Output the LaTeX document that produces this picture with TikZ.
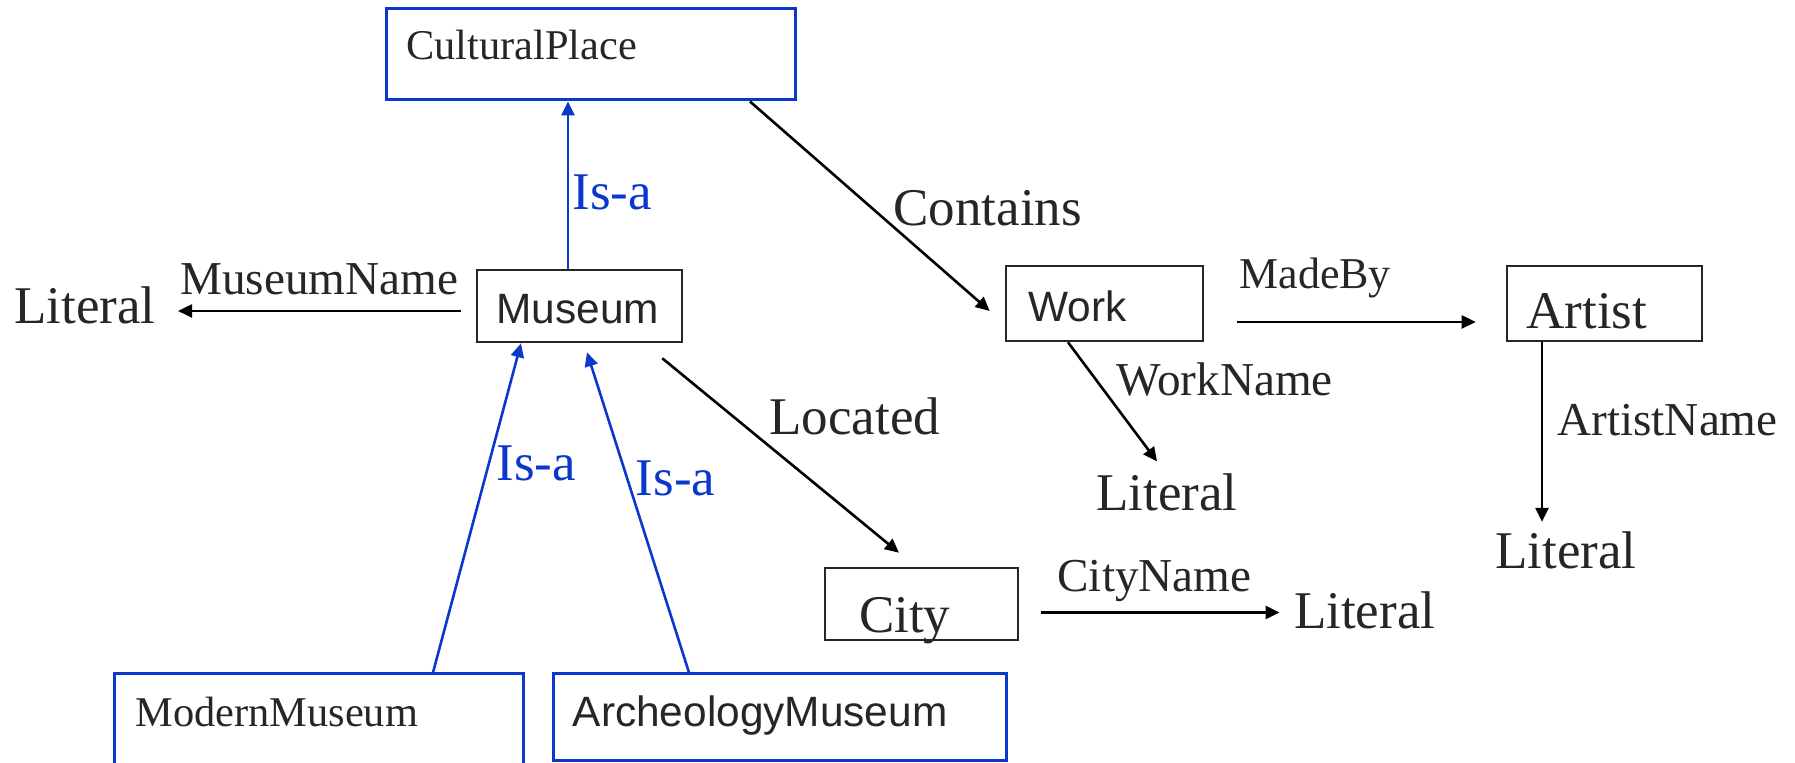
\documentclass[tikz,border=0pt]{standalone}
\usepackage{fontspec}
\setmainfont{Liberation Serif}
\setsansfont{Liberation Sans}
\usetikzlibrary{calc,arrows.meta}
\definecolor{isablue}{RGB}{10,56,204}
\definecolor{ink}{RGB}{38,38,38}
\begin{document}
\begin{tikzpicture}[x=0.5pt,y=-0.5pt,
  every node/.style={inner sep=0pt,text=ink},
  txt/.style={anchor=base west},
  bigf/.style={font=\fontsize{26.5}{30}\selectfont},
  midf/.style={font=\fontsize{23.6}{28}\selectfont},
  smallf/.style={font=\fontsize{21.2}{25}\selectfont},
  sansf/.style={font=\sffamily\fontsize{21.2}{25}\selectfont},
  bluebox/.style={draw=isablue,line width=1.5pt},
  blackbox/.style={draw=ink,line width=1.3pt},
  rel/.style={draw=black,line width=1.3pt,-{Triangle[length=7pt,width=6.5pt]}},
  isa/.style={draw=isablue,line width=1.3pt,-{Triangle[length=7pt,width=6.5pt]}},
  isalabel/.style={txt,bigf,text=isablue}]
\fill[white] (0,0) rectangle (1795,763);
\clip (0,0) rectangle (1795,763);

% class boxes
\node[bluebox,minimum width=204.5pt,minimum height=45.5pt] (cp) at (590.5,54.5) {};
\node[blackbox,minimum width=102.5pt,minimum height=36pt] (mus) at (579.5,306) {};
\node[blackbox,minimum width=98.5pt,minimum height=37.5pt] (work) at (1104.5,303.5) {};
\node[blackbox,minimum width=97.5pt,minimum height=37.5pt] (art) at (1604.5,303.5) {};
\node[blackbox,minimum width=96.5pt,minimum height=36pt] (city) at (921.5,604) {};
\node[bluebox,minimum width=204.5pt,minimum height=63pt] (mm) at (318.5,737) {};
\node[bluebox,minimum width=226.5pt,minimum height=43.5pt] (am) at (779.5,717.5) {};

% box captions
\node[txt,smallf] (cpt) at (406,59.5) {CulturalPlace};
\node[txt,sansf] (must) at (496,324) {Museum};
\node[txt,sansf] (workt) at (1028,322) {Work};
\node[txt,bigf] (artt) at (1526,328.5) {Artist};
\node[txt,bigf] (cityt) at (858.6,633) {City};
\node[txt,smallf] (mmt) at (135,727) {ModernMuseum};
\node[txt,sansf] (amt) at (572.4,727) {ArcheologyMuseum};

% literal values
\node[txt,bigf] (lit1) at (14,324) {Literal};
\node[txt,bigf] (lit2) at (1096,510.6) {Literal};
\node[txt,bigf] (lit3) at (1495,569) {Literal};
\node[txt,bigf] (lit4) at (1293.6,628.5) {Literal};

% property labels
\node[isalabel] (isa1) at (572,209.5) {Is-a};
\node[isalabel] (isa2) at (496,481) {Is-a};
\node[isalabel] (isa3) at (635.5,496) {Is-a};
\node[txt,bigf] (lcont) at (893,225.5) {Contains};
\node[txt,bigf] (lloc) at (769,435) {Located};
\node[txt,midf] (lmn) at (180,295) {MuseumName};
\node[txt,font=\fontsize{22}{26}\selectfont] (lmb) at (1239,288.5) {MadeBy};
\node[txt,midf] (lwn) at (1116,396) {WorkName};
\node[txt,midf] (lan) at (1557,436) {ArtistName};
\node[txt,midf] (lcn) at (1057,592) {CityName};

% connector end points
\coordinate (isaS) at ([xshift=-5.75pt]mus.north);
\coordinate (mnS) at ($(mus.west)+(-15,5)$);
\coordinate (anS) at ($(art.south)+(-62.5,0)$);
\coordinate (cnS) at ($(city.east)+(21.5,8.5)$);

% subclass links
\draw[isa] (isaS) -- (isaS |- cp.south);
\draw[isa] ($(mm.north)+(114.5,0)$) -- ($(mus.south)+(-58.5,0)$);
\draw[isa] ($(am.north)+(-90.5,0)$) -- ($(mus.south)+(7.5,9)$);

% properties
\draw[rel] ($(cp.south)+(159.5,0)$) -- ($(work.west)+(-15,7.5)$);
\draw[rel,shorten >=11pt] (mnS) -- (mnS -| lit1.east);
\draw[rel] ($(work.east)+(33,18.5)$) -- ($(art.west)+(-30,18.5)$);
\draw[rel] ($(work.south)+(-36.5,0)$) -- ($(lit2.north)+(-10,-12)$);
\draw[rel,shorten >=5pt] (anS) -- (anS |- lit3.north);
\draw[rel] ($(mus.south east)+(-21,15)$) -- ($(city.north)+(-22.5,-14)$);
\draw[rel,shorten >=7pt] (cnS) -- (cnS -| lit4.west);
\end{tikzpicture}
\end{document}
